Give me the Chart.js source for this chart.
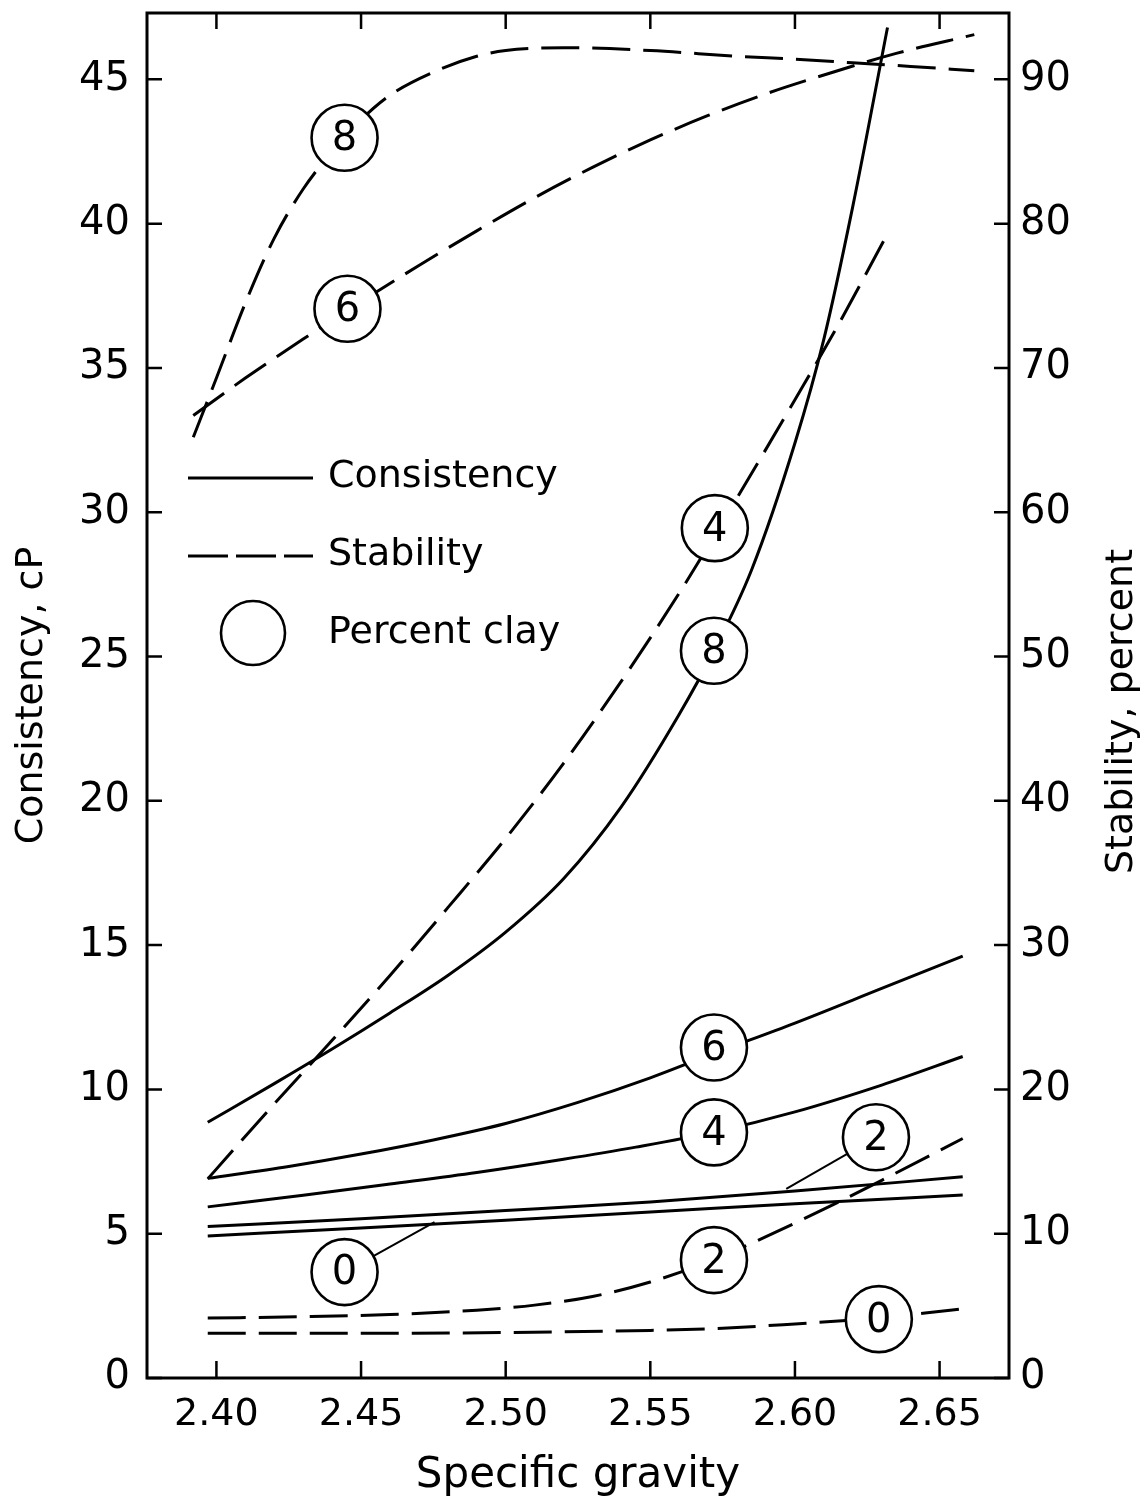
<!DOCTYPE html>
<html>
<head>
<meta charset="utf-8">
<script src="https://cdn.jsdelivr.net/npm/chart.js@4.4.0/dist/chart.umd.min.js"></script>
<style>
  html, body { margin: 0; padding: 0; background: #fff; }
</style>
</head>
<body>
<canvas id="chart" width="1147" height="1505"></canvas>
<script>
'use strict'

const FONT = "'DejaVu Sans', sans-serif"

// axis ticks
const xTicks = [2.40, 2.45, 2.50, 2.55, 2.60, 2.65]
const consTicks = [0, 5, 10, 15, 20, 25, 30, 35, 40, 45]
const stabTicks = [0, 10, 20, 30, 40, 50, 60, 70, 80, 90]

// consistency, cP (solid lines, left axis) by percent clay
const cons0X = [2.397, 2.45, 2.50, 2.55, 2.60, 2.658]
const cons0Y = [4.92, 5.2, 5.47, 5.75, 6.04, 6.34]
const cons2X = [2.397, 2.45, 2.50, 2.55, 2.60, 2.658]
const cons2Y = [5.25, 5.52, 5.8, 6.1, 6.48, 6.97]
const cons4X = [2.397, 2.43, 2.46, 2.49, 2.52, 2.545, 2.572, 2.60, 2.63, 2.658]
const cons4Y = [5.93, 6.33, 6.72, 7.12, 7.58, 8.0, 8.52, 9.22, 10.15, 11.14]
const cons6X = [2.397, 2.425, 2.45, 2.475, 2.50, 2.525, 2.55, 2.572, 2.60, 2.63, 2.658]
const cons6Y = [6.92, 7.33, 7.76, 8.25, 8.82, 9.55, 10.4, 11.25, 12.3, 13.5, 14.62]
const cons8X = [2.397, 2.42, 2.44, 2.46, 2.48, 2.50, 2.52, 2.54, 2.56, 2.572, 2.585, 2.60, 2.61, 2.62, 2.632]
const cons8Y = [8.86, 10.2, 11.4, 12.65, 13.95, 15.45, 17.3, 19.8, 23.0, 25.2, 28.0, 32.4, 36.0, 40.6, 46.8]

// stability, percent (dashed lines, right axis) by percent clay
const stab0X = [2.397, 2.45, 2.50, 2.55, 2.575, 2.60, 2.625, 2.645, 2.658]
const stab0Y = [3.1, 3.1, 3.15, 3.3, 3.45, 3.75, 4.1, 4.5, 4.8]
const stab2X = [2.397, 2.43, 2.46, 2.49, 2.51, 2.53, 2.55, 2.572, 2.59, 2.61, 2.63, 2.658]
const stab2Y = [4.15, 4.25, 4.4, 4.7, 5.05, 5.65, 6.65, 8.2, 9.8, 11.7, 13.7, 16.6]
const stab4X = [2.397, 2.42, 2.44, 2.46, 2.48, 2.50, 2.52, 2.54, 2.56, 2.58, 2.60, 2.615, 2.632]
const stab4Y = [13.8, 19.0, 23.4, 27.9, 32.6, 37.4, 42.6, 48.3, 54.4, 61.0, 67.8, 73.0, 79.3]
const stab6X = [2.392, 2.41, 2.43, 2.45, 2.47, 2.49, 2.51, 2.53, 2.55, 2.57, 2.59, 2.61, 2.635, 2.662]
const stab6Y = [66.7, 69.3, 72.0, 74.6, 77.1, 79.5, 81.8, 83.9, 85.8, 87.5, 89.0, 90.3, 91.8, 93.1]
const stab8X = [2.392, 2.40, 2.41, 2.42, 2.43, 2.44, 2.45, 2.46, 2.475, 2.49, 2.50, 2.52, 2.55, 2.58, 2.60, 2.62, 2.64, 2.662]
const stab8Y = [65.2, 69.3, 74.5, 79.0, 82.4, 85.0, 87.2, 88.9, 90.5, 91.6, 92.0, 92.2, 92.0, 91.6, 91.4, 91.15, 90.9, 90.6]

// percent clay markers
const consLabelText = ['0', '2', '4', '6', '8']
const consLabelX = [2.4443, 2.628, 2.572, 2.572, 2.572]
const consLabelY = [3.67, 8.34, 8.51, 11.45, 25.2]
const stabLabelText = ['0', '2', '4', '6', '8']
const stabLabelX = [2.629, 2.572, 2.5723, 2.4453, 2.4443]
const stabLabelY = [4.08, 8.17, 58.9, 74.1, 85.95]

// leaders from the 0 and 2 consistency markers to their lines
const leader0X = [2.4443, 2.4754]
const leader0Y = [3.67, 5.4]
const leader2X = [2.628, 2.597]
const leader2Y = [8.34, 6.55]

function pts(xs, ys) {
  return xs.map((x, i) => ({x: x, y: ys[i]}))
}

function curve(xs, ys, axis, dashed) {
  return {
    data: pts(xs, ys),
    yAxisID: axis,
    borderColor: '#000',
    borderWidth: 3,
    borderDash: dashed ? [38, 13] : [],
    pointRadius: 0,
    cubicInterpolationMode: 'monotone',
    fill: false,
    order: 2
  }
}

function leader(xs, ys) {
  return {
    data: pts(xs, ys),
    yAxisID: 'y',
    borderColor: '#000',
    borderWidth: 2,
    pointRadius: 0,
    fill: false,
    order: 1
  }
}

function markers(xs, ys, axis) {
  return {
    data: pts(xs, ys),
    yAxisID: axis,
    showLine: false,
    pointRadius: 33,
    pointBackgroundColor: '#fff',
    pointBorderColor: '#000',
    pointBorderWidth: 2.6,
    order: 0
  }
}

const datasets = [
  curve(cons0X, cons0Y, 'y', false),
  curve(cons2X, cons2Y, 'y', false),
  curve(cons4X, cons4Y, 'y', false),
  curve(cons6X, cons6Y, 'y', false),
  curve(cons8X, cons8Y, 'y', false),
  curve(stab0X, stab0Y, 'y2', true),
  curve(stab2X, stab2Y, 'y2', true),
  curve(stab4X, stab4Y, 'y2', true),
  curve(stab6X, stab6Y, 'y2', true),
  curve(stab8X, stab8Y, 'y2', true),
  leader(leader0X, leader0Y),
  leader(leader2X, leader2Y),
  markers(consLabelX, consLabelY, 'y'),
  markers(stabLabelX, stabLabelY, 'y2')
]
const CONS_MARKERS = 12
const STAB_MARKERS = 13

// frame, inward ticks, marker digits, legend and right title
const paperPlugin = {
  id: 'paper',
  afterDatasetsDraw(chart) {
    const {ctx, chartArea: a, scales} = chart
    ctx.save()
    ctx.strokeStyle = '#000'
    ctx.fillStyle = '#000'

    ctx.lineWidth = 3
    ctx.strokeRect(a.left, a.top, a.right - a.left, a.bottom - a.top)

    ctx.lineWidth = 2.5
    ctx.beginPath()
    scales.x.ticks.forEach(t => {
      const px = scales.x.getPixelForValue(t.value)
      ctx.moveTo(px, a.bottom)
      ctx.lineTo(px, a.bottom - 17)
      ctx.moveTo(px, a.top)
      ctx.lineTo(px, a.top + 16)
    })
    scales.y.ticks.forEach(t => {
      const py = scales.y.getPixelForValue(t.value)
      ctx.moveTo(a.left, py)
      ctx.lineTo(a.left + 15, py)
    })
    scales.y2.ticks.forEach(t => {
      const py = scales.y2.getPixelForValue(t.value)
      ctx.moveTo(a.right, py)
      ctx.lineTo(a.right - 15, py)
    })
    ctx.stroke()

    // digits inside the percent clay circles
    ctx.font = '40px ' + FONT
    ctx.textAlign = 'center'
    ctx.textBaseline = 'middle'
    chart.getDatasetMeta(CONS_MARKERS).data.forEach((p, i) => {
      ctx.fillText(consLabelText[i], p.x, p.y + 2)
    })
    chart.getDatasetMeta(STAB_MARKERS).data.forEach((p, i) => {
      ctx.fillText(stabLabelText[i], p.x, p.y + 2)
    })

    // legend
    const lx = a.left + 41
    const lw = 125
    ctx.lineWidth = 3
    ctx.beginPath()
    ctx.moveTo(lx, a.top + 465)
    ctx.lineTo(lx + lw, a.top + 465)
    ctx.stroke()
    ctx.setLineDash([40, 8])
    ctx.beginPath()
    ctx.moveTo(lx, a.top + 543)
    ctx.lineTo(lx + lw, a.top + 543)
    ctx.stroke()
    ctx.setLineDash([])
    ctx.lineWidth = 2.6
    ctx.beginPath()
    ctx.arc(a.left + 106, a.top + 620, 32, 0, Math.PI * 2)
    ctx.stroke()
    ctx.font = '38px ' + FONT
    ctx.textAlign = 'left'
    ctx.fillText('Consistency', a.left + 181, a.top + 464)
    ctx.fillText('Stability', a.left + 181, a.top + 542)
    ctx.fillText('Percent clay', a.left + 181, a.top + 620)

    // right axis title, read bottom to top
    ctx.translate(a.right + 113, (a.top + a.bottom) / 2 + 16)
    ctx.rotate(-Math.PI / 2)
    ctx.textAlign = 'center'
    ctx.fillText('Stability, percent', 0, 0)
    ctx.restore()
  }
}

function fixedTicks(values) {
  return scale => { scale.ticks = values.map(v => ({value: v})) }
}

function noPad(scale) {
  scale.paddingTop = 0
  scale.paddingBottom = 0
  scale.paddingLeft = 0
  scale.paddingRight = 0
}

new Chart(document.getElementById('chart').getContext('2d'), {
  type: 'line',
  data: {datasets: datasets},
  plugins: [paperPlugin],
  options: {
    responsive: false,
    animation: false,
    devicePixelRatio: 1,
    layout: {autoPadding: false, padding: {top: 13, left: 0, right: 0, bottom: 0}},
    plugins: {legend: {display: false}, tooltip: {enabled: false}},
    scales: {
      x: {
        type: 'linear',
        min: 2.376,
        max: 2.674,
        afterBuildTicks: fixedTicks(xTicks),
        afterFit: s => { s.height = 127; noPad(s) },
        grid: {display: false, drawTicks: false},
        border: {display: false},
        ticks: {
          color: '#000',
          font: {size: 38, family: FONT},
          padding: 14,
          maxRotation: 0,
          autoSkip: false,
          callback: v => v.toFixed(2)
        },
        title: {
          display: true,
          text: 'Specific gravity',
          color: '#000',
          font: {size: 42, family: FONT},
          padding: {top: 0, bottom: 4}
        }
      },
      y: {
        type: 'linear',
        position: 'left',
        min: 0,
        max: 47.3,
        afterBuildTicks: fixedTicks(consTicks),
        afterFit: s => { s.width = 147; noPad(s) },
        grid: {display: false, drawTicks: false},
        border: {display: false},
        ticks: {color: '#000', font: {size: 40, family: FONT}, padding: 17},
        title: {
          display: true,
          text: 'Consistency, cP',
          color: '#000',
          font: {size: 38, family: FONT},
          padding: {top: 9, bottom: 0}
        }
      },
      y2: {
        type: 'linear',
        position: 'right',
        min: 0,
        max: 94.6,
        afterBuildTicks: fixedTicks(stabTicks),
        afterFit: s => { s.width = 138; noPad(s) },
        grid: {display: false, drawTicks: false},
        border: {display: false},
        ticks: {color: '#000', font: {size: 40, family: FONT}, padding: 11}
      }
    }
  }
})
</script>
</body>
</html>
